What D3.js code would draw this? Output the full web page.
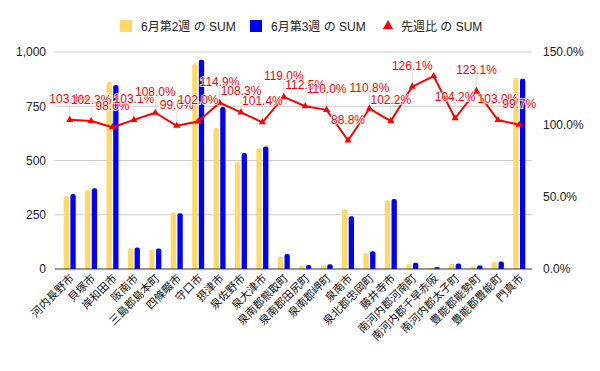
<!DOCTYPE html>
<html>
<head>
<meta charset="utf-8">
<script src="https://cdn.jsdelivr.net/npm/d3@7"></script>
<style>
  body { margin: 0; background: #fff; }
  svg text { font-family: "Liberation Sans", Arial, "Noto Sans CJK JP", sans-serif; }
</style>
</head>
<body>
<svg id="chart" width="600" height="371"></svg>
<script>
// data
const categories = ["河内長野市", "貝塚市", "岸和田市", "阪南市", "三島郡島本町", "四條畷市", "守口市", "摂津市",
  "泉佐野市", "泉大津市", "泉南郡熊取町", "泉南郡田尻町", "泉南郡岬町", "泉南市", "泉北郡忠岡町", "藤井寺市",
  "南河内郡河南町", "南河内郡千早赤阪", "南河内郡太子町", "豊能郡能勢町", "豊能郡豊能町", "門真市"];
const week2 = [336, 364, 862, 96, 87, 260, 945, 650, 493, 556, 58, 16, 20, 275, 74, 316, 23, 6, 24, 13, 33, 880];
const week3 = [346, 372, 848, 99, 94, 257, 964, 747, 534, 564, 69, 18, 22, 243, 82, 323, 29, 8, 25, 16, 34, 877];
const ratio = [103.1, 102.3, 98.0, 103.1, 108.0, 99.0, 102.0, 114.9, 108.3, 101.4, 119.0, 112.5, 110.0, 88.8,
  110.8, 102.2, 126.1, 133.3, 104.2, 123.1, 103.0, 99.7];
const hiddenLabels = ["南河内郡千早赤阪"]; // label dropped in the original (overlap)
const leftTicks = [0, 250, 500, 750, 1000];
const rightTicks = [0, 50, 100, 150];
const seriesNames = ["6月第2週 の SUM", "6月第3週 の SUM", "先週比 の SUM"];
const colors = ["#FFD966", "#0000FF", "#FF0000"];

const svg = d3.select("#chart");
const plot = { left: 55, right: 532, top: 52, bottom: 269 };

const x = d3.scaleBand().domain(categories).range([59, 530]);
const x1 = d3.scaleBand().domain([0, 1]).range([-6, 6]).paddingInner(0.2);
const y = d3.scaleLinear().domain([0, 1000]).range([plot.bottom, plot.top]);
const y2 = d3.scaleLinear().domain([0, 150]).range([plot.bottom, plot.top]);

// gridlines
svg.append("g")
  .selectAll("line")
  .data(leftTicks.filter(d => d > 0))
  .join("line")
  .attr("x1", plot.left).attr("x2", plot.right)
  .attr("y1", d => y(d)).attr("y2", d => y(d))
  .attr("stroke", "#cccccc").attr("stroke-width", 1);

// left axis
const leftAxis = svg.append("g")
  .attr("transform", `translate(${plot.left - 6},0)`)
  .call(d3.axisLeft(y).tickValues(leftTicks).tickFormat(d3.format(",")).tickSize(0));
leftAxis.select(".domain").remove();
leftAxis.selectAll("text").attr("font-size", 12).attr("fill", "#222").attr("dx", 0);

// right axis
const rightAxis = svg.append("g")
  .attr("transform", `translate(${plot.right + 8},0)`)
  .call(d3.axisRight(y2).tickValues(rightTicks).tickFormat(d => d3.format(".1f")(d) + "%").tickSize(0));
rightAxis.select(".domain").remove();
rightAxis.selectAll("text").attr("font-size", 12).attr("fill", "#222").attr("dx", 0);

// bars with rounded tops
function barPath(x0, w, yTop, yBase) {
  const r = Math.min(2, w / 2, (yBase - yTop) / 2);
  return `M${x0},${yBase}V${yTop + r}Q${x0},${yTop} ${x0 + r},${yTop}H${x0 + w - r}Q${x0 + w},${yTop} ${x0 + w},${yTop + r}V${yBase}Z`;
}

const barData = categories.map((c, i) => ({ c, vals: [week2[i], week3[i]] }));
const groups = svg.append("g")
  .selectAll("g")
  .data(barData)
  .join("g")
  .attr("transform", d => `translate(${x(d.c) + x.bandwidth() / 2},0)`);

groups.selectAll("path")
  .data(d => d.vals.map((v, k) => ({ v, k })))
  .join("path")
  .attr("d", d => barPath(x1(d.k), x1.bandwidth(), y(d.v), y(0)))
  .attr("fill", d => colors[d.k]);

// baseline
svg.append("line")
  .attr("x1", plot.left).attr("x2", plot.right)
  .attr("y1", y(0)).attr("y2", y(0))
  .attr("stroke", "#333").attr("stroke-width", 1);

// ratio line
const pts = categories.map((c, i) => ({ c, v: ratio[i], px: x(c) + x.bandwidth() / 2, py: y2(ratio[i]) }));

// leader lines for annotations
svg.append("g")
  .selectAll("line")
  .data(pts.filter(p => !hiddenLabels.includes(p.c)))
  .join("line")
  .attr("x1", p => p.px).attr("x2", p => p.px)
  .attr("y1", p => p.py - 16).attr("y2", p => p.py - 2)
  .attr("stroke", "#dddddd").attr("stroke-width", 1);

svg.append("path")
  .datum(pts)
  .attr("d", d3.line().x(p => p.px).y(p => p.py))
  .attr("fill", "none")
  .attr("stroke", colors[2])
  .attr("stroke-width", 2)
  .attr("stroke-linejoin", "round");

svg.append("g")
  .selectAll("path")
  .data(pts)
  .join("path")
  .attr("d", d3.symbol(d3.symbolTriangle, 22))
  .attr("transform", p => `translate(${p.px},${p.py})`)
  .attr("fill", colors[2]);

// annotations
svg.append("g")
  .selectAll("text")
  .data(pts.filter(p => !hiddenLabels.includes(p.c)))
  .join("text")
  .attr("x", p => p.px)
  .attr("y", p => p.py - 17)
  .attr("text-anchor", "middle")
  .attr("font-size", 12)
  .attr("fill", colors[2])
  .attr("stroke", "#fff")
  .attr("stroke-width", 2)
  .attr("stroke-opacity", 0.8)
  .attr("paint-order", "stroke")
  .text(p => d3.format(".1f")(p.v) + "%");

// x labels
svg.append("g")
  .selectAll("text")
  .data(categories)
  .join("text")
  .attr("transform", c => `translate(${x(c) + x.bandwidth() / 2 + 5},${plot.bottom + 10}) rotate(-45)`)
  .attr("text-anchor", "end")
  .attr("font-size", 11)
  .attr("fill", "#111")
  .text(c => c);

// legend
const legendX = [120, 250, 383];
const legend = svg.append("g")
  .selectAll("g")
  .data(seriesNames)
  .join("g")
  .attr("transform", (d, i) => `translate(${legendX[i]},20)`);

legend.filter((d, i) => i < 2)
  .append("rect")
  .attr("width", 12).attr("height", 12)
  .attr("fill", (d, i) => colors[i]);

legend.filter((d, i) => i === 2)
  .append("path")
  .attr("d", d3.symbol(d3.symbolTriangle, 45))
  .attr("transform", "translate(5,6)")
  .attr("fill", colors[2]);

legend.append("text")
  .attr("x", (d, i) => i < 2 ? 21 : 18)
  .attr("y", 10.5)
  .attr("font-size", 12)
  .attr("fill", "#222")
  .text(d => d);
</script>
</body>
</html>
